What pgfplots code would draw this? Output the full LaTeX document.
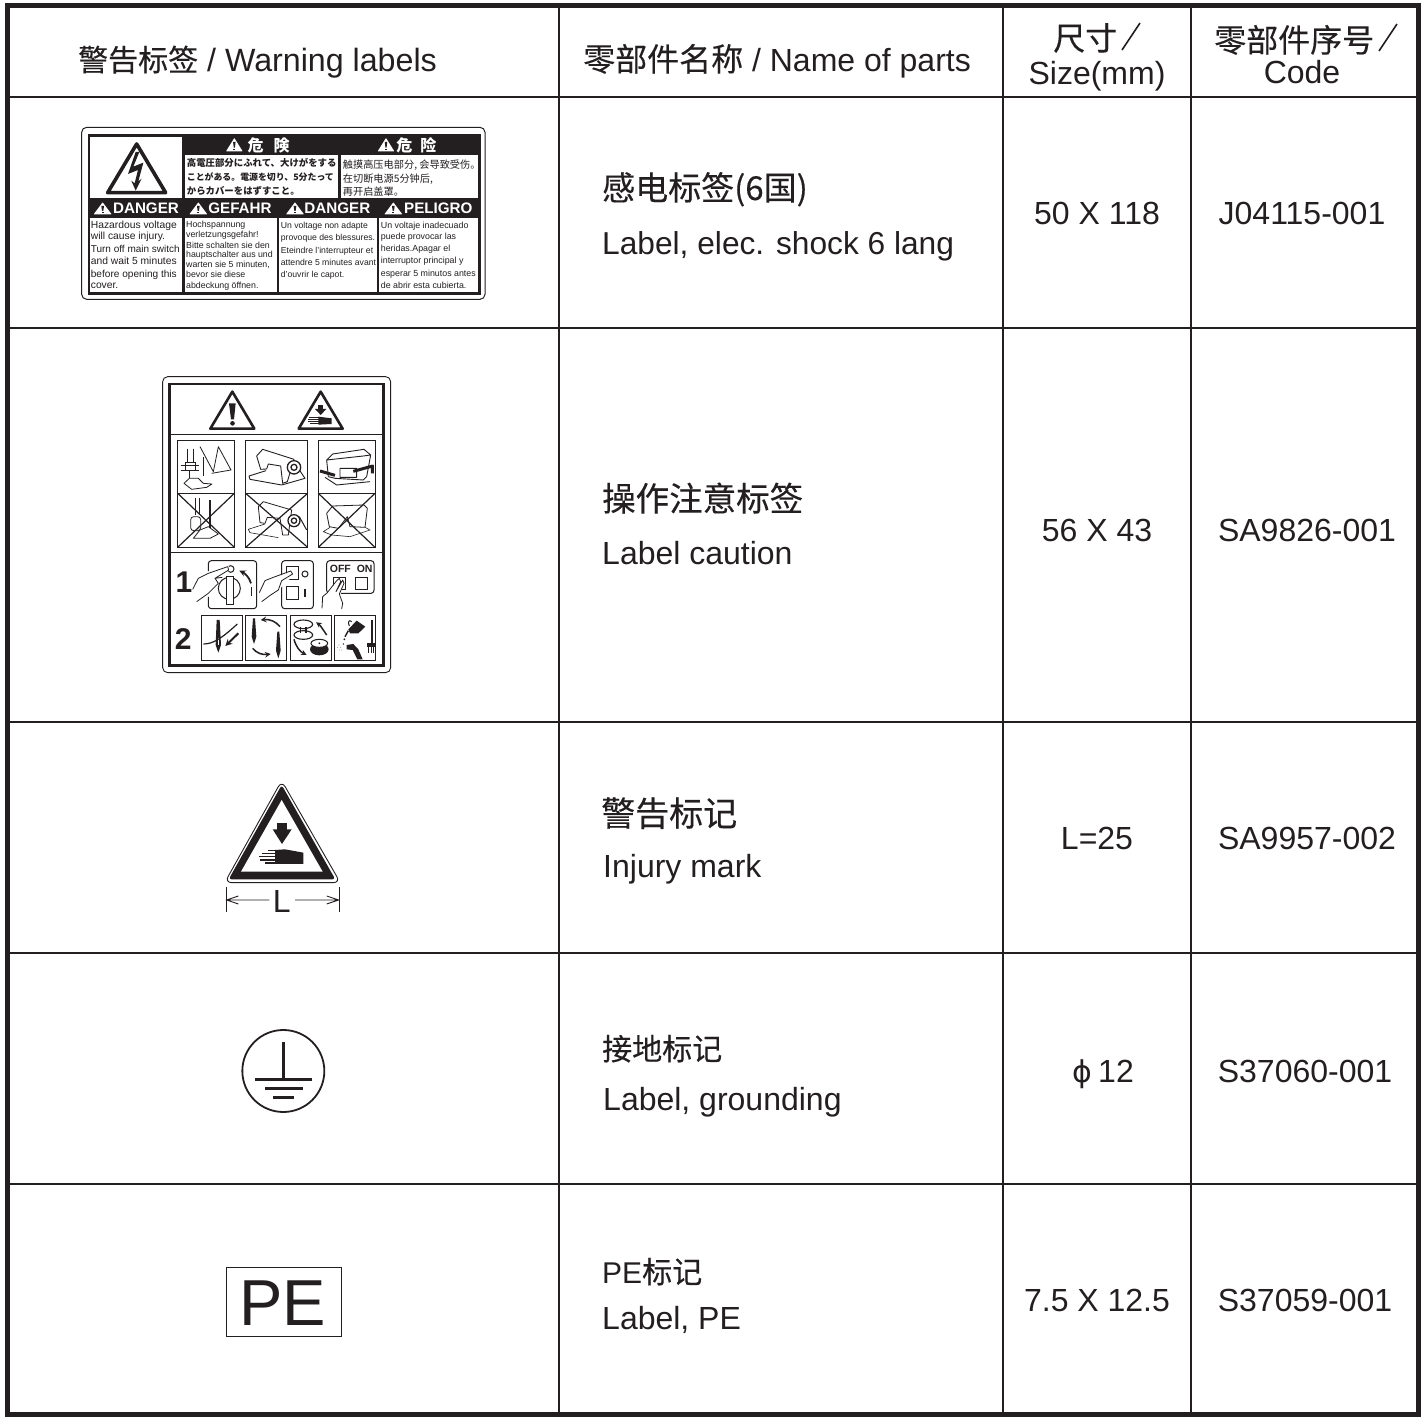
\documentclass[border=0pt]{standalone}
\usepackage{pgfplots}
\pgfplotsset{compat=1.18}
\usepackage{fontspec}
\setmainfont{Liberation Sans}
\newfontfamily\cjk{Noto Sans CJK SC}
\newfontfamily\cjkb[FakeBold=0.3]{Noto Sans CJK SC}
\newfontfamily\jp{Noto Sans CJK JP}
\newfontfamily\djv{DejaVu Sans}
\definecolor{ink}{HTML}{231F20}
\newcommand{\fs}[1]{\fontsize{#1}{#1}\selectfont}
\pgfplotsset{zoomed/.style n args={4}{
  at={({#1*1pt},{(1416-#2-#4)*1pt})},anchor=south west,
  width=#3pt,height=#4pt,scale only axis,hide axis,clip=false,
  xmin=0,xmax={3*#3},ymin=0,ymax={3*#4},y dir=reverse}}
% left-aligned baseline text
\newcommand{\lab}[4]{\node[anchor=base west,inner sep=0pt,text=ink,font=\fs{#3}] at (#1,#2) {#4};}
\newcommand{\cen}[4]{\node[anchor=base,inner sep=0pt,text=ink,font=\fs{#3}] at (#1,#2) {#4};}
% small warning triangle: cx, bottom y, half width, height, fill, mark colour
\newcommand{\wt}[6]{\fill[#5,rounded corners=0.5pt] ({#1-#3},#2) -- (#1,{#2-#4}) -- ({#1+#3},#2) -- cycle;
  \fill[#6] ({#1-#3*0.15},{#2-#4*0.70}) -- ({#1+#3*0.15},{#2-#4*0.70}) -- ({#1+#3*0.07},{#2-#4*0.28}) -- ({#1-#3*0.07},{#2-#4*0.28}) -- cycle;
  \fill[#6] ({#1-#3*0.11},{#2-#4*0.21}) rectangle ({#1+#3*0.11},{#2-#4*0.07});}
\begin{document}
\begin{tikzpicture}
\begin{axis}[width=1426pt,height=1416pt,scale only axis,hide axis,clip=false,
  xmin=0,xmax=1426,ymin=0,ymax=1416,y dir=reverse,at={(0,0)},anchor=south west]
\fill[white] (0,0) rectangle (1426,1416);
% table rules
\addplot[ink,line width=5pt,forget plot] coordinates {(7.5,5.5) (1418.5,5.5) (1418.5,1414) (7.5,1414) (7.5,5.5) (1418.5,5.5)};
\addplot[ink,line width=1.3pt,forget plot] coordinates {(8,97) (1418,97)};
\addplot[ink,line width=1.3pt,forget plot] coordinates {(8,328) (1418,328)};
\addplot[ink,line width=1.3pt,forget plot] coordinates {(8,722) (1418,722)};
\addplot[ink,line width=1.3pt,forget plot] coordinates {(8,953) (1418,953)};
\addplot[ink,line width=1.3pt,forget plot] coordinates {(8,1184) (1418,1184)};
\addplot[ink,line width=1.3pt,forget plot] coordinates {(559,6) (559,1414)};
\addplot[ink,line width=1.3pt,forget plot] coordinates {(1003,6) (1003,1414)};
\addplot[ink,line width=1.3pt,forget plot] coordinates {(1191,6) (1191,1414)};
% header
\lab{78}{71}{32.2}{{\cjkb\fs{30}警告标签} / Warning labels}
\lab{583}{71}{32}{{\cjkb\fs{32}零部件名称} / Name of parts}
\lab{1053}{50}{32}{\cjkb 尺寸}
\draw[ink,line width=1.6pt] (1122,50) -- (1140,23);
\cen{1097}{84}{32}{Size(mm)}
\lab{1214}{52}{32}{\cjkb 零部件序号}
\draw[ink,line width=1.6pt] (1379,51) -- (1397,24);
\cen{1302}{83}{32}{Code}
% row 1
\lab{602}{200}{33}{\cjkb 感电标签(6国)}
\lab{602}{254}{31.7}{Label, elec. shock 6 lang}
\cen{1097}{224}{32}{50 X 118}
\cen{1302}{224}{32}{J04115-001}
% row 2
\lab{602}{511}{33.5}{\cjkb 操作注意标签}
\lab{602}{564}{32}{Label caution}
\cen{1097}{541}{32}{56 X 43}
\cen{1307}{541}{32}{SA9826-001}
% row 3
\lab{601}{826}{34}{\cjkb 警告标记}
\lab{603}{877}{32}{Injury mark}
\cen{1097}{849}{32}{L=25}
\cen{1307}{849}{32}{SA9957-002}
% row 4
\lab{602}{1060}{30}{\cjkb 接地标记}
\lab{603}{1110}{32}{Label, grounding}
\cen{1082}{1082}{30}{\djv ϕ}
\lab{1098}{1082}{32}{12}
\cen{1305}{1082}{32}{S37060-001}
% row 5
\lab{602}{1283}{30}{PE{\cjkb 标记}}
\lab{602}{1329}{32}{Label, PE}
\cen{1097}{1311}{32}{7.5 X 12.5}
\cen{1305}{1311}{32}{S37059-001}
% PE mark
\draw[ink,line width=1pt] (226,1267.5) rectangle (341,1336);
\cen{282.5}{1325}{65}{PE}
\end{axis}

% --- electric shock label
\begin{axis}[zoomed={70}{120}{425}{190}]
\draw[ink,line width=1pt,rounded corners=5pt] (35,22) rectangle (1245,538);
\fill[ink] (53,42) rectangle (1232,525);
\fill[white] (60,52) rectangle (336,233);
\fill[white] (345,105) rectangle (805,233);
\fill[white] (813,105) rectangle (1225,233);
\fill[white] (60,293) rectangle (337,515);
\fill[white] (345,293) rectangle (620,515);
\fill[white] (627,293) rectangle (920,515);
\fill[white] (928,293) rectangle (1225,515);
% lightning
\draw[ink,line width=3.6pt,line join=round] (200,72) -- (113,218) -- (287,218) -- cycle;
\fill[ink] (197,96) -- (174,162) -- (204,150) -- (194,190) -- (184,182) -- (197,212) -- (215,176) -- (205,184) -- (220,128) -- (190,140) -- (208,96) -- cycle;
% CJK heads
\wt{493}{94}{25}{40}{white}{ink}
\node[text=white,font=\jp\bfseries\fs{16}] at (557,76) {危};
\node[text=white,font=\jp\bfseries\fs{16}] at (635,76) {険};
\wt{948}{94}{25}{40}{white}{ink}
\node[text=white,font=\cjk\bfseries\fs{16}] at (1003,76) {危};
\node[text=white,font=\cjk\bfseries\fs{16}] at (1075,76) {险};
\lab{350}{140}{9.4}{\jp\bfseries 高電圧部分にふれて、大けがをする}
\lab{350}{182}{8.9}{\jp\bfseries ことがある。電源を切り、5分たって}
\lab{350}{225}{9.4}{\jp\bfseries からカバーをはずすこと。}
\lab{818}{145}{10.2}{\cjk 触摸高压电部分, 会导致受伤。}
\lab{818}{189}{10.2}{\cjk 在切断电源5分钟后,}
\lab{818}{227}{10.2}{\cjk 再开启盖罩。}
% language heads
\wt{98}{283}{27}{36}{white}{ink}
\node[text=white,font=\bfseries\fs{15.2}] at (228,265) {DANGER};
\wt{385}{283}{27}{36}{white}{ink}
\node[text=white,font=\bfseries\fs{15.2}] at (510,265) {GEFAHR};
\wt{675}{283}{27}{36}{white}{ink}
\node[text=white,font=\bfseries\fs{15.2}] at (802,265) {DANGER};
\wt{970}{283}{27}{36}{white}{ink}
\node[text=white,font=\bfseries\fs{15.2}] at (1105,265) {PELIGRO};
% body text
\lab{62}{325}{10.3}{Hazardous voltage}
\lab{62}{360}{10.3}{will cause injury.}
\lab{62}{397}{10}{Turn off main switch}
\lab{62}{435}{10.3}{and wait 5 minutes}
\lab{62}{472}{10.1}{before opening this}
\lab{62}{507}{10.3}{cover.}
\lab{348}{322}{8.8}{Hochspannung}
\lab{348}{352}{8.8}{verletzungsgefahr!}
\lab{348}{385}{8.8}{Bitte schalten sie den}
\lab{348}{414}{8.8}{hauptschalter aus und}
\lab{348}{444}{8.8}{warten sie 5 minuten,}
\lab{348}{474}{8.8}{bevor sie diese}
\lab{348}{505}{8.8}{abdeckung öffnen.}
\lab{632}{325}{8.65}{Un voltage non adapte}
\lab{632}{362}{8.65}{provoque des blessures.}
\lab{632}{400}{8.65}{Eteindre l'interrupteur et}
\lab{632}{437}{8.65}{attendre 5 minutes avant}
\lab{632}{472}{8.65}{d'ouvrir le capot.}
\lab{932}{325}{8.85}{Un voltaje inadecuado}
\lab{932}{360}{8.85}{puede provocar las}
\lab{932}{395}{8.85}{heridas.Apagar el}
\lab{932}{432}{8.85}{interruptor principal y}
\lab{932}{470}{8.85}{esperar 5 minutos antes}
\lab{932}{505}{8.85}{de abrir esta cubierta.}
\end{axis}

% --- caution label
\begin{axis}[zoomed={150}{370}{250}{310}]
\draw[ink,line width=.9pt,rounded corners=5pt] (38,20) rectangle (722,908);
\draw[ink,line width=2.6pt] (59,42) rectangle (701,887);
\draw[ink,line width=1.3pt] (59,193) -- (701,193);
\draw[ink,line width=1.3pt] (59,548) -- (701,548);
% warning triangles
\draw[ink,line width=2.6pt,line join=round] (247,65) -- (181,176) -- (313,176) -- cycle;
\fill[ink] (237,100) -- (257,100) -- (252,148) -- (243,148) -- cycle;
\fill[ink] (247.5,160) circle[radius=7];
\draw[ink,line width=2.6pt,line join=round] (512,65) -- (446,176) -- (578,176) -- cycle;
\fill[ink] (505,105) rectangle (519,117); \fill[ink] (495,117) -- (529,117) -- (512,135) -- cycle;
\fill[ink] (505,140) -- (545,145) -- (545,162) -- (505,164) -- cycle;
\draw[ink,line width=1pt] (478,143) -- (510,143) (475,149) -- (510,149) (475,155) -- (510,155) (480,161) -- (510,161);
% picture cells
\draw[ink,line width=.8pt] (83,212) rectangle (253,532) (83,370) -- (253,370);
\draw[ink,line width=.8pt] (287,212) rectangle (473,532) (287,370) -- (473,370);
\draw[ink,line width=.8pt] (505,212) rectangle (675,532) (505,370) -- (675,370);
% A1 needle, foot, fabric
\draw[ink,line width=.8pt,line join=round] (113,236) -- (113,278) (130,236) -- (130,278);
\draw[ink,line width=.8pt] (105,278) rectangle (137,300) (92,286) -- (148,286) (92,300) -- (148,300) (118,300) -- (118,325);
\draw[ink,line width=.8pt,line join=round] (102,340) -- (118,325) -- (145,325) -- (160,340) -- (186,342) -- (170,352) -- (125,358) -- cycle;
\draw[ink,line width=.8pt,line join=round] (150,230) -- (190,305) -- (205,230) -- (243,300) -- (185,310);
\draw[ink,line width=1.6pt] (160,262) -- (160,318);
% B1 machine
\draw[ink,line width=.9pt,line join=round] (320,258) -- (338,238) -- (432,268) -- (412,335) -- (398,340) -- (392,288) -- (355,282) -- (350,297) -- (332,298) -- cycle;
\draw[ink,line width=.9pt,line join=round] (348,302) -- (297,318) -- (300,328) -- (395,345) -- (465,325) -- (445,295);
\filldraw[fill=white,draw=ink,line width=1.3pt] (432,292) circle[radius=20];
\draw[ink,line width=1.3pt] (432,292) circle[radius=9];
% C1 machine with bar
\draw[ink,line width=.9pt,line join=round] (530,270) -- (548,252) -- (642,238) -- (662,255) -- (650,320) -- (640,330) -- (555,325) -- (535,320) -- cycle (530,270) -- (640,258) -- (662,255);
\draw[ink,line width=.9pt,line join=round] (525,322) -- (560,345) -- (660,335) (570,295) rectangle (620,322);
\draw[ink,line width=3pt] (510,303) -- (555,316) (610,304) -- (668,288) (667,285) -- (667,310);
% A2
\draw[ink,line width=.8pt] (137,385) -- (137,435) (148,385) -- (148,435);
\draw[ink,line width=1.6pt] (180,390) -- (180,475);
\draw[ink,line width=.8pt,rounded corners=3pt,line join=round] (122,440) rectangle (152,482);
\draw[ink,line width=.8pt,line join=round] (130,505) -- (150,480) -- (175,470) -- (205,492) -- (180,505) -- cycle;
\draw[ink,line width=1.2pt] (83,370) -- (253,532) (253,370) -- (83,532);
% B2
\draw[ink,line width=.8pt,line join=round] (325,410) -- (340,395) -- (425,420) -- (415,495) -- (398,495) -- (390,445) -- (352,442) -- (345,460) -- (330,458) -- cycle;
\draw[ink,line width=.6pt,line join=round] (345,462) -- (295,478) -- (300,488) -- (385,503);
\filldraw[fill=white,draw=ink,line width=1.3pt] (432,452) circle[radius=18];
\draw[ink,line width=1.3pt] (432,452) circle[radius=8];
\draw[ink,line width=1pt] (448,440) -- (470,480);
\draw[ink,line width=1.2pt] (287,370) -- (473,532) (473,370) -- (287,532);
% C2
\draw[ink,line width=.8pt,line join=round] (530,430) -- (548,408) -- (642,405) -- (652,415) -- (645,472) -- (600,470) -- (592,440) -- (565,475) -- (538,470) -- cycle;
\draw[ink,line width=.6pt,line join=round] (540,472) -- (520,485) -- (545,495) -- (600,500) -- (660,480) -- (645,472);
\draw[ink,line width=1.2pt] (505,370) -- (675,532) (675,370) -- (505,532);
% 1 and 2
\node[text=ink,font=\bfseries\fs{30}] at (102,637) {1};
\node[text=ink,font=\bfseries\fs{30}] at (100,806) {2};
% switch panel
\draw[ink,line width=1pt,rounded corners=3pt] (175,572) rectangle (320,716);
\draw[ink,line width=1pt] (242,597) circle[radius=10];
\draw[ink,line width=1pt] (238,655) circle[radius=33];
\filldraw[fill=white,draw=ink,line width=1pt] (228,620) rectangle (250,703);
\draw[ink,line width=1.8pt,-stealth] (303,640) .. controls (298,622) and (285,610) .. (268,602);
\draw[ink,line width=1.6pt] (305,652) -- (305,678);
\filldraw[fill=white,draw=white] (155,610) -- (235,588) -- (238,600) -- (195,640) -- (175,680) -- (130,700) -- cycle;
\draw[ink,line width=.8pt,line join=round] (128,658) -- (145,625) -- (175,610) -- (233,590) -- (236,600) -- (195,625) -- (217,622);
\draw[ink,line width=.8pt,line join=round] (195,625) -- (205,640) -- (175,670) -- (140,695);
% square panel
\draw[ink,line width=1pt,rounded corners=3pt] (395,572) rectangle (490,716);
\draw[ink,line width=1pt] (408,590) rectangle (445,628) (408,650) rectangle (445,688);
\draw[ink,line width=1pt] (465,612) circle[radius=9];
\draw[ink,line width=1.8pt] (465,657) -- (465,682);
\filldraw[fill=white,draw=white] (358,630) -- (425,605) -- (430,615) -- (395,650) -- (360,680) -- cycle;
\draw[ink,line width=.8pt,line join=round] (328,668) -- (345,632) -- (370,622) -- (422,603) -- (428,612) -- (395,632) -- (385,660) -- (362,675) -- (335,695);
% off-on panel
\draw[ink,line width=1pt,rounded corners=3pt] (530,572) rectangle (672,670);
\node[text=ink,font=\bfseries\fs{10.5}] at (571,598) {OFF};
\node[text=ink,font=\bfseries\fs{10.5}] at (644,598) {ON};
\draw[ink,line width=1pt] (550,623) rectangle (585,658) (617,623) rectangle (652,658);
\filldraw[fill=white,draw=white] (532,668) -- (562,635) -- (578,630) -- (572,670) -- (575,715) -- (520,715) -- cycle;
\draw[ink,line width=.8pt,line join=round] (516,715) -- (518,680) -- (532,668) -- (560,632) -- (568,625) -- (572,635) -- (558,665) -- (578,630) -- (582,640) -- (568,672) -- (578,700) -- (575,717);
% row 2 boxes
\draw[ink,line width=.8pt] (153,735) rectangle (277,870);
\draw[ink,line width=.8pt] (287,735) rectangle (410,870);
\draw[ink,line width=.8pt] (421,735) rectangle (544,870);
\draw[ink,line width=.8pt] (554,735) rectangle (677,870);
% needle threading
\fill[ink] (200,750) -- (209,750) -- (213,825) -- (205,848) -- (197,825) -- cycle;
\draw[white,line width=.8pt] (205,805) -- (205,825);
\draw[ink,line width=1.2pt] (160,822) .. controls (190,822) and (215,805) .. (262,762);
\draw[ink,line width=2pt,-stealth] (265,790) -- (226,828);
% needle exchange
\fill[ink] (309,745) -- (315,745) -- (319,800) -- (312,822) -- (305,800) -- cycle;
\fill[ink] (382,785) -- (388,785) -- (392,842) -- (385,865) -- (378,842) -- cycle;
\draw[ink,line width=1.5pt,-stealth] (390,770) .. controls (378,755) and (360,747) .. (332,750);
\draw[ink,line width=1.5pt,-stealth] (308,835) .. controls (320,850) and (338,855) .. (362,852);
% bobbins
\draw[ink,line width=1.1pt] (460,763) ellipse[x radius=28,y radius=13];
\draw[ink,line width=1.1pt] (460,795) ellipse[x radius=28,y radius=13];
\draw[ink,line width=1.1pt] (452,770) -- (452,790) (468,770) -- (468,790);
\fill[ink] (508,838) ellipse[x radius=28,y radius=18];
\filldraw[fill=white,draw=ink,line width=1pt] (508,820) ellipse[x radius=25,y radius=12];
\fill[ink] (508,820) circle[radius=3];
\draw[ink,line width=1.5pt,-stealth] (530,795) .. controls (520,780) and (510,765) .. (498,757);
\draw[ink,line width=1.5pt,-stealth] (432,808) .. controls (438,830) and (450,845) .. (470,855);
% oil and brush
\fill[ink] (620,752) -- (646,770) -- (625,790) -- (600,790) -- (595,778) -- cycle;
\draw[ink,line width=1pt] (605,755) .. controls (598,748) and (592,755) .. (598,768);
\draw[ink,line width=1.4pt] (595,782) -- (585,800);
\fill[ink] (583,808) circle[radius=3]; \fill[ink] (580,822) circle[radius=2.5];
\draw[ink,line width=2pt] (665,750) -- (665,820);
\fill[ink] (652,820) rectangle (678,832);
\draw[ink,line width=1pt] (656,830) -- (656,850) (663,830) -- (663,850) (670,830) -- (670,850) (677,830) -- (677,850);
\fill[ink] (590,825) -- (610,822) -- (625,838) -- (638,868) -- (622,868) -- (608,840) -- (590,838) -- cycle;
\fill[ink] (567,825) circle[radius=1]; \fill[ink] (572,832) circle[radius=1]; \fill[ink] (562,833) circle[radius=1]; \fill[ink] (568,840) circle[radius=1]; \fill[ink] (575,840) circle[radius=1];
\end{axis}

% --- injury mark
\begin{axis}[zoomed={210}{770}{150}{150}]
\draw[ink,line width=.9pt,rounded corners=7pt,line join=round] (215,32) -- (44,338) -- (391,338) -- cycle;
\fill[ink,rounded corners=3pt] (215,45) -- (56,328) -- (376,328) -- cycle;
\fill[white] (215,90) -- (93,305) -- (338,305) -- cycle;
\fill[ink] (202,160) rectangle (230,180);
\fill[ink] (188,178) -- (245,178) -- (216,222) -- cycle;
\fill[ink] (195,240) -- (225,238) -- (280,248) -- (280,282) -- (195,282) -- cycle;
\draw[ink,line width=1.4pt] (175,241) -- (200,241) (155,250) -- (200,250) (148,260) -- (200,260) (150,270) -- (200,270) (165,279) -- (200,279);
\draw[ink,line width=.9pt] (48,350) -- (48,427) (388,350) -- (388,427);
\draw[ink,line width=.9pt] (178,390) -- (50,390) (85,378) -- (50,390) -- (85,402);
\draw[ink,line width=.9pt] (255,390) -- (386,390) (350,378) -- (386,390) -- (350,402);
\node[text=ink,font=\fs{32}] at (215,395) {L};
\end{axis}

% --- ground mark
\begin{axis}[zoomed={220}{1020}{125}{100}]
\draw[ink,line width=1.8pt] (190,153) circle[radius=123];
\draw[ink,line width=3pt] (190,65) -- (190,178) (105,178) -- (276,178) (135,205) -- (249,205) (159,232) -- (222,232);
\end{axis}
\end{tikzpicture}
\end{document}
